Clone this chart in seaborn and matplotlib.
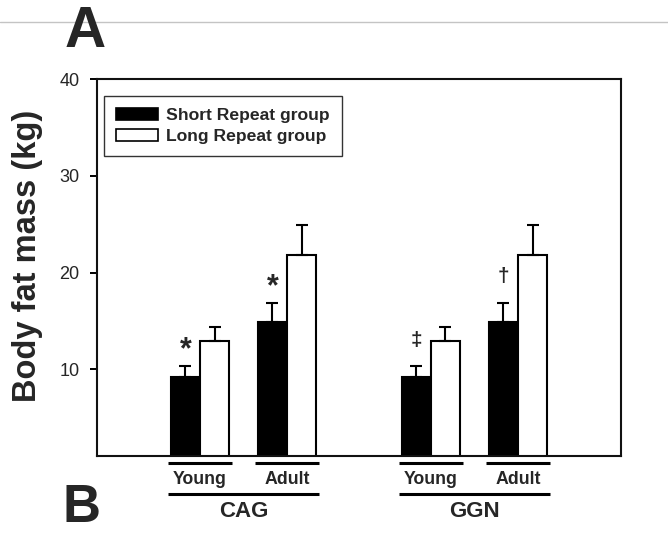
import matplotlib
matplotlib.use("Agg")
import matplotlib.pyplot as plt
from matplotlib.lines import Line2D
from matplotlib.patches import Patch
import seaborn as sns
import pandas as pd

# ---------------- data ----------------
genes = ["CAG", "CAG", "GGN", "GGN"]
ages = ["Young", "Adult", "Young", "Adult"]
series = ["Short Repeat group", "Long Repeat group"]
short_mean = [9.2, 14.9, 9.2, 14.9]
short_sem = [1.15, 2.0, 1.15, 2.0]
long_mean = [12.9, 21.8, 12.9, 21.8]
long_sem = [1.5, 3.1, 1.5, 3.1]
signif = ["*", "*", "\u2021", "\u2020"]
y_ticks = [10, 20, 30, 40]
y_label = "Body fat mass (kg)"

# ---------------- layout ----------------
x_pos = [0.0, 1.0, 2.65, 3.65]       # native x positions of the four pairs
pair_width = 0.673

sns.set_style("white")
plt.rcParams["font.family"] = ["Liberation Sans", "DejaVu Sans"]

rows = []
for i in range(len(genes)):
    rows.append(dict(pos=x_pos[i], series=series[0], mean=short_mean[i], sem=short_sem[i]))
    rows.append(dict(pos=x_pos[i], series=series[1], mean=long_mean[i], sem=long_sem[i]))
df = pd.DataFrame(rows)

palette = {series[0]: "black", series[1]: "white"}

W, H = 668, 533
fig = plt.figure(figsize=(W / 100, H / 100), dpi=100)
ax_l, ax_r, ax_t, ax_b = 96.7, 621.0, 79.3, 456.0
ax = fig.add_axes([ax_l / W, 1 - ax_b / H, (ax_r - ax_l) / W, (ax_b - ax_t) / H])

sns.barplot(data=df, x="pos", y="mean", hue="series", hue_order=series,
            palette=palette, native_scale=True, width=pair_width,
            edgecolor="black", linewidth=1.5, errorbar=None, saturation=1,
            legend=False, ax=ax)

# error bars (upper only) on each bar, from bar geometry
short_centers = {}
for cont, s in zip(ax.containers, series):
    sub = df[df["series"] == s]
    for bar in cont:
        cx = bar.get_x() + bar.get_width() / 2
        h = bar.get_height()
        idx = (sub["pos"] - cx).abs().idxmin()
        err = sub.loc[idx, "sem"]
        ax.errorbar([cx], [h], yerr=[[0], [err]], fmt="none", ecolor="black",
                    elinewidth=1.5, capsize=4, capthick=1.5, zorder=5)
        if s == series[0]:
            short_centers[sub.loc[idx, "pos"]] = (cx, h + err)

# significance markers
for i, sym in enumerate(signif):
    cx, top = short_centers[x_pos[i]]
    if sym == "*":
        ax.annotate(sym, xy=(cx, top), xytext=(0, 5.5), textcoords="offset points",
                    ha="center", va="baseline", fontsize=22, fontweight="bold")
    else:
        ax.annotate(sym, xy=(cx, top), xytext=(0, 14.5), textcoords="offset points",
                    ha="center", va="baseline", fontsize=15, fontweight="bold")

unit_px = 87.1
ax.set_xlim((ax_l - 200) / unit_px, (ax_r - 200) / unit_px)
ax.set_ylim(1.03, 40)
ax.set_xticks([])
ax.set_xlabel("")
ax.set_ylabel("")
ax.set_yticks(y_ticks)
ax.set_yticklabels([str(t) for t in y_ticks])
ax.tick_params(axis="y", direction="out", length=4.8, width=1.4, pad=7.5,
               labelsize=13, left=True, color="black")
for sp in ax.spines.values():
    sp.set_linewidth(1.5)
    sp.set_color("#111111")
    sp.set_visible(True)

# legend
handles = [Patch(facecolor=palette[s], edgecolor="black", linewidth=1.2, label=s) for s in series]
leg = ax.legend(handles=handles, loc="upper left",
                bbox_to_anchor=((104.3 - ax_l) / (ax_r - ax_l), (ax_b - 96) / (ax_b - ax_t)),
                borderaxespad=0, frameon=True, fancybox=False, shadow=False,
                prop=dict(size=12.6, weight="bold"), handlelength=2.37, handleheight=0.68,
                handletextpad=0.5, labelspacing=0.33, borderpad=0.68)
leg.get_frame().set_edgecolor("black")
leg.get_frame().set_linewidth(1.0)

# group annotations below the axis
trans = ax.get_xaxis_transform()
def yfrac(px):
    return (ax_b - px) / (ax_b - ax_t)
pad = 2.5 / unit_px
for i in range(len(genes)):
    x0 = x_pos[i] - pair_width / 2 - pad
    x1 = x_pos[i] + pair_width / 2 + pad
    ax.plot([x0, x1], [yfrac(462.8)] * 2, transform=trans, color="black", lw=2.2,
            clip_on=False, solid_capstyle="butt")
    ax.text(x_pos[i], yfrac(484.5), ages[i], transform=trans, ha="center",
            va="baseline", fontsize=12.8, fontweight="bold")
for g in ["CAG", "GGN"]:
    ps = [x_pos[i] for i in range(len(genes)) if genes[i] == g]
    x0 = min(ps) - pair_width / 2 - pad
    x1 = max(ps) + pair_width / 2 + pad
    ax.plot([x0, x1], [yfrac(494)] * 2, transform=trans, color="black", lw=2.2,
            clip_on=False, solid_capstyle="butt")
    ax.text((x0 + x1) / 2, yfrac(516.7), g, transform=trans, ha="center",
            va="baseline", fontsize=16, fontweight="bold")

# y label
fig.text(27.5 / W, 1 - 256 / H, y_label, rotation=90, ha="center", va="center",
         fontsize=23.5, fontweight="bold")

# panel letters and top rule
fig.add_artist(Line2D([0, 1], [1 - 21.7 / H] * 2, transform=fig.transFigure,
                      color="#c4c4c4", lw=1.0, zorder=0))
fig.text(65 / W, 1 - 47 / H, "A", fontsize=41, fontweight="bold", ha="left",
         va="baseline", zorder=2)
fig.text(63 / W, 1 - 522 / H, "B", fontsize=38, fontweight="bold", ha="left",
         va="baseline")

fig.savefig("out.png", dpi=100, facecolor="white")
